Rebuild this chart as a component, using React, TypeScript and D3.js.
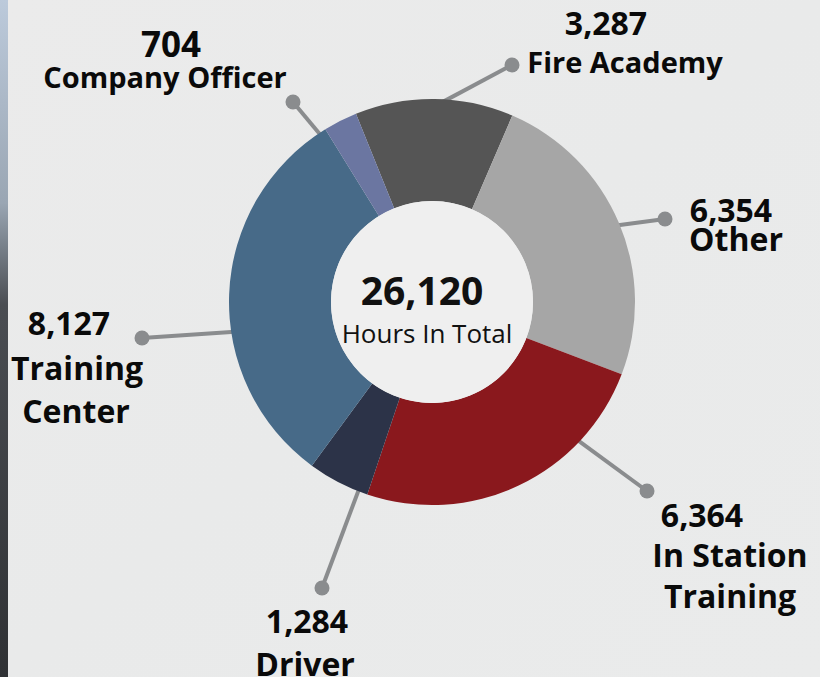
import React from "react";
import * as d3 from "d3";

const categories = ["Fire Academy", "Other", "In Station Training", "Driver", "Training Center", "Company Officer"];
const hours = [3287, 6354, 6364, 1284, 8127, 704];
const labelLines = [["Fire Academy"], ["Other"], ["In Station", "Training"], ["Driver"], ["Training", "Center"], ["Company Officer"]];
const sliceColors = ["#555555", "#a6a6a6", "#8a181d", "#2c3348", "#476a88", "#6b76a1"];
const centerCaption = "Hours In Total";

// layout (positions only)
const W = 820, H = 677;
const CX = 432, CY = 302, R_OUT = 203, R_IN = 101;
const START_DEG = -22;
type Layout = { dot: [number, number]; edgeDeg: number; value: [number, number, number]; lines: [number, number][]; lineSize: number };
const layouts: Layout[] = [
  { dot: [512, 65], edgeDeg: 4.3, value: [606, 35, 32], lines: [[625, 73]], lineSize: 29 },
  { dot: [665, 219], edgeDeg: 67.7, value: [731, 222, 32], lines: [[736, 251]], lineSize: 32 },
  { dot: [647, 491], edgeDeg: 133.4, value: [702, 527, 32], lines: [[730, 567], [730, 608]], lineSize: 32 },
  { dot: [322, 588], edgeDeg: 201.3, value: [307, 633, 32], lines: [[305, 676]], lineSize: 32 },
  { dot: [142, 338], edgeDeg: 261.5, value: [69, 335, 32], lines: [[77, 380], [76, 423]], lineSize: 32 },
  { dot: [293, 102], edgeDeg: -33.8, value: [171, 57, 35], lines: [[165, 88]], lineSize: 29 },
];

const FONT = "'Open Sans', 'Noto Sans', sans-serif";

export default function App() {
  const fmt = d3.format(",");
  const total = d3.sum(hours);
  const toRad = (d: number) => (d * Math.PI) / 180;
  const pie = d3
    .pie<number>()
    .sort(null)
    .value((d) => d)
    .startAngle(toRad(START_DEG))
    .endAngle(toRad(START_DEG + 360));
  const arcs = pie(hours);
  const arcGen = d3.arc<d3.PieArcDatum<number>>().innerRadius(R_IN).outerRadius(R_OUT);

  return (
    <svg width={W} height={H} style={{ position: "fixed", left: 0, top: 0, display: "block" }} fontFamily={FONT}>
      <defs>
        <linearGradient id="edge" x1="0" y1="0" x2="0" y2="1">
          <stop offset="0" stopColor="#bccadb" />
          <stop offset="0.3" stopColor="#9aa6b3" />
          <stop offset="0.45" stopColor="#4a4d52" />
          <stop offset="1" stopColor="#2f3134" />
        </linearGradient>
        <linearGradient id="bg" x1="0" y1="0" x2="1" y2="1">
          <stop offset="0" stopColor="#ebebeb" />
          <stop offset="0.5" stopColor="#e9eaea" />
          <stop offset="1" stopColor="#eaebeb" />
        </linearGradient>
      </defs>
      <rect x={0} y={0} width={W} height={H} fill="url(#bg)" />
      <rect x={0} y={0} width={8} height={H} fill="url(#edge)" />
      {/* leader lines */}
      {layouts.map((l, i) => {
        const a = toRad(l.edgeDeg);
        const ex = CX + R_OUT * Math.sin(a);
        const ey = CY - R_OUT * Math.cos(a);
        const dx = ex - l.dot[0], dy = ey - l.dot[1];
        const len = Math.hypot(dx, dy);
        const x2 = ex + (dx / len) * 15, y2 = ey + (dy / len) * 15;
        return (
          <g key={"l" + i}>
            <line x1={l.dot[0]} y1={l.dot[1]} x2={x2} y2={y2} stroke="#8a8c8e" strokeWidth={4} />
            <circle cx={l.dot[0]} cy={l.dot[1]} r={7.5} fill="#8a8c8e" />
          </g>
        );
      })}
      <g transform={`translate(${CX},${CY})`}>
        {arcs.map((a, i) => (
          <path key={categories[i]} d={arcGen(a) || ""} fill={sliceColors[i]} />
        ))}
        <circle r={R_IN} fill="#efefef" />
      </g>
      <text x={422} y={305} textAnchor="middle" fontSize={39} fontWeight={700} fill="#111">
        {fmt(total)}
      </text>
      <text x={427} y={343} textAnchor="middle" fontSize={26} fontWeight={400} fill="#111">
        {centerCaption}
      </text>
      {layouts.map((l, i) => (
        <g key={"t" + i} fill="#0a0a0a" fontWeight={700}>
          <text x={l.value[0]} y={l.value[1]} textAnchor="middle" fontSize={l.value[2]}>
            {fmt(hours[i])}
          </text>
          {labelLines[i].map((s, j) => (
            <text key={j} x={l.lines[j][0]} y={l.lines[j][1]} textAnchor="middle" fontSize={l.lineSize}>
              {s}
            </text>
          ))}
        </g>
      ))}
    </svg>
  );
}
